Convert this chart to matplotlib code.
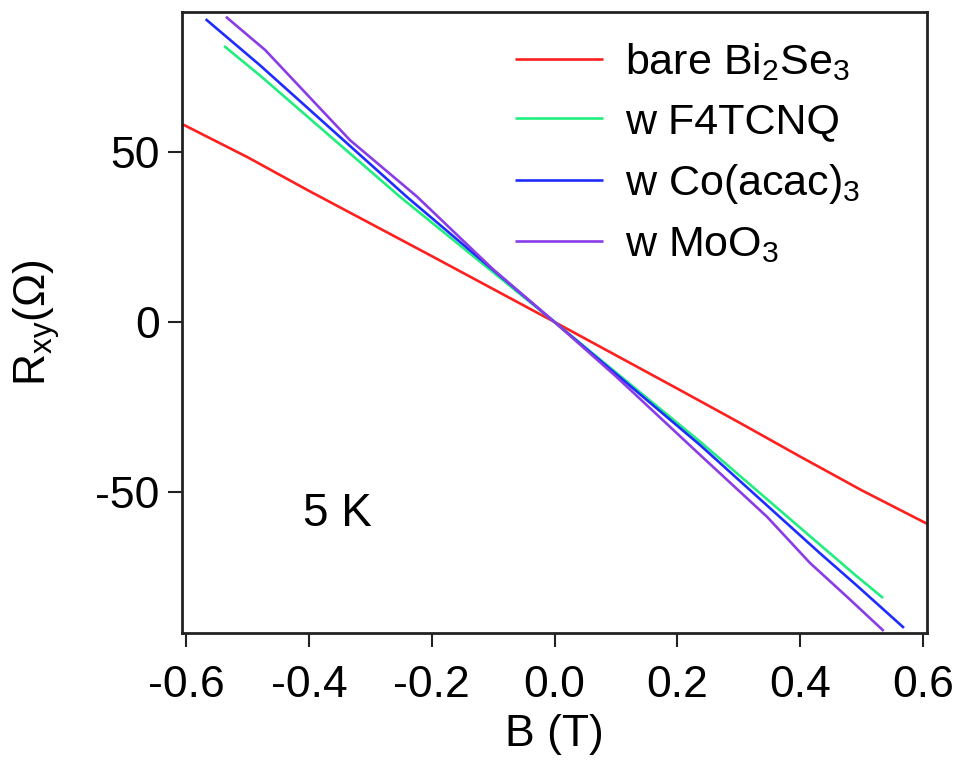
import matplotlib
matplotlib.use("Agg")
import matplotlib.pyplot as plt

plt.rcParams['font.family'] = ['Liberation Sans', 'DejaVu Sans']
plt.rcParams['mathtext.fontset'] = 'custom'
plt.rcParams['mathtext.rm'] = 'Liberation Sans'
plt.rcParams['mathtext.it'] = 'Liberation Sans:italic'
plt.rcParams['mathtext.bf'] = 'Liberation Sans:bold'

# ---- data ----
B_bare = [-0.607, -0.5, -0.4, -0.3, -0.2, -0.1, 0.0, 0.1, 0.2, 0.3, 0.4, 0.5, 0.607]
R_bare = [58.3, 48.5, 38.6, 29.0, 19.4, 9.7, 0.0, -9.8, -19.6, -29.5, -39.6, -49.5, -59.4]

B_f4 = [-0.538, -0.48, -0.252, 0.0, 0.237, 0.432, 0.492, 0.535]
R_f4 = [81.2, 72.6, 36.9, 0.0, -35.2, -65.5, -74.8, -81.2]

B_co = [-0.568, -0.48, -0.241, 0.0, 0.237, 0.432, 0.492, 0.569]
R_co = [89.1, 75.6, 36.9, 0.0, -36.2, -68.0, -77.5, -90.0]

B_mo = [-0.535, -0.471, -0.333, -0.224, -0.1, 0.0, 0.1, 0.237, 0.346, 0.416, 0.476, 0.536]
R_mo = [89.8, 80.0, 53.5, 36.9, 15.5, 0.0, -16.0, -39.1, -57.3, -70.9, -80.8, -90.9]

labels = ['bare Bi$_2$Se$_3$', 'w F4TCNQ', 'w Co(acac)$_3$', 'w MoO$_3$']
colors = ['#ff1f1f', '#22ee80', '#1f2cff', '#8a3de6']

xticks = [-0.6, -0.4, -0.2, 0.0, 0.2, 0.4, 0.6]
xticklabels = ['-0.6', '-0.4', '-0.2', '0.0', '0.2', '0.4', '0.6']
yticks = [-50, 0, 50]
yticklabels = ['-50', '0', '50']

fig = plt.figure(figsize=(9.6, 7.61), dpi=100)
ax = fig.add_axes([182/960, 1-633/761, (927-182)/960, (633-12)/761])

series = [(B_bare, R_bare), (B_f4, R_f4), (B_co, R_co), (B_mo, R_mo)]
for (b, r), lab, c in zip(series, labels, colors):
    ax.plot(b, r, color=c, lw=1.9, label=lab, solid_capstyle='butt')

ax.set_xlim(-0.6065, 0.6065)
ax.set_ylim(-91.5, 91.2)
ax.set_xticks(xticks)
ax.set_xticklabels(xticklabels)
ax.set_yticks(yticks)
ax.set_yticklabels(yticklabels)
ax.tick_params(direction='out', length=10, width=1.5, labelsize=32, color='#222222')
ax.tick_params(axis='x', pad=13)
ax.tick_params(axis='y', pad=6)
for s in ax.spines.values():
    s.set_linewidth(2.0)
    s.set_color('#222222')

ax.set_xlabel('B (T)', fontsize=32, labelpad=6)
ax.set_ylabel('R$_{\\mathrm{xy}}$(Ω)', fontsize=32, labelpad=24)

ax.text(-0.41, -56.5, '5 K', fontsize=33, va='center', ha='left')

leg = ax.legend(loc='upper left', bbox_to_anchor=((515-182)/745, (633-41)/621), frameon=False,
                fontsize=31, handlelength=2.05, handletextpad=0.5, labelspacing=0.45,
                borderaxespad=0.0, borderpad=0.0)

fig.savefig('out.png', dpi=100)
